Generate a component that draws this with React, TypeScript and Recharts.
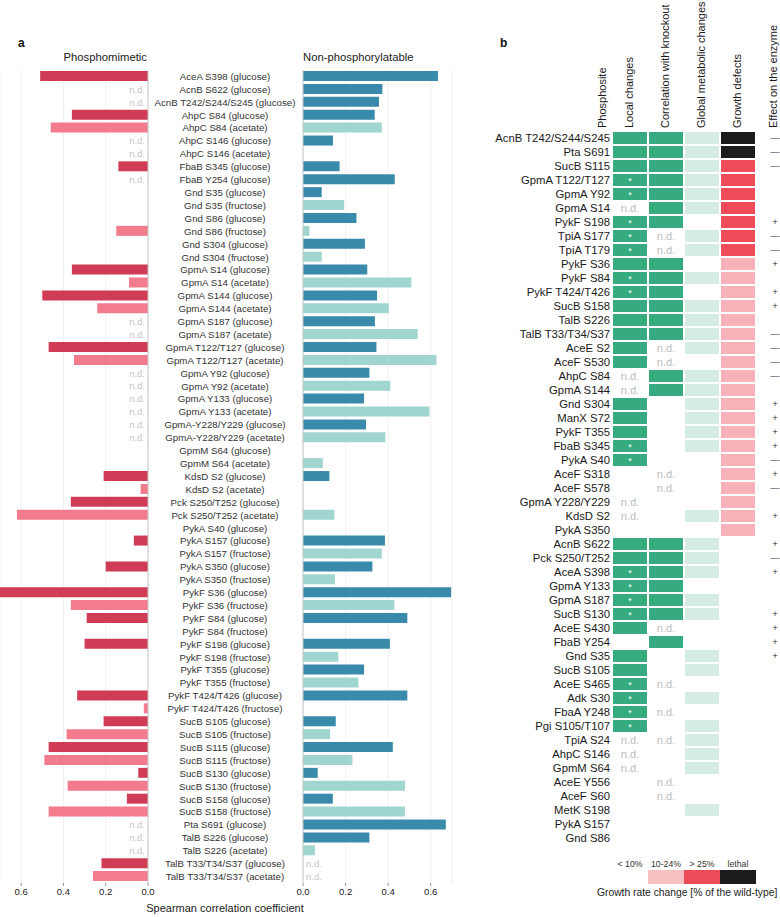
import React from "react";
import { BarChart, Bar, XAxis, YAxis, CartesianGrid, ReferenceLine, Cell } from "recharts";

const FONT = "'Liberation Sans', Arial, Helvetica, sans-serif";
const ND = "n.d.";

// ---- panel a: Spearman correlation per phosphosite / condition ----
const conditions = [
  "AceA S398 (glucose)", "AcnB S622 (glucose)", "AcnB T242/S244/S245 (glucose)",
  "AhpC S84 (glucose)", "AhpC S84 (acetate)", "AhpC S146 (glucose)", "AhpC S146 (acetate)",
  "FbaB S345 (glucose)", "FbaB Y254 (glucose)", "Gnd S35 (glucose)", "Gnd S35 (fructose)",
  "Gnd S86 (glucose)", "Gnd S86 (fructose)", "Gnd S304 (glucose)", "Gnd S304 (fructose)",
  "GpmA S14 (glucose)", "GpmA S14 (acetate)", "GpmA S144 (glucose)", "GpmA S144 (acetate)",
  "GpmA S187 (glucose)", "GpmA S187 (acetate)", "GpmA T122/T127 (glucose)", "GpmA T122/T127 (acetate)",
  "GpmA Y92 (glucose)", "GpmA Y92 (acetate)", "GpmA Y133 (glucose)", "GpmA Y133 (acetate)",
  "GpmA-Y228/Y229 (glucose)", "GpmA-Y228/Y229 (acetate)", "GpmM S64 (glucose)", "GpmM S64 (acetate)",
  "KdsD S2 (glucose)", "KdsD S2 (acetate)", "Pck S250/T252 (glucose)", "Pck S250/T252 (acetate)",
  "PykA S40 (glucose)", "PykA S157 (glucose)", "PykA S157 (fructose)", "PykA S350 (glucose)",
  "PykA S350 (fructose)", "PykF S36 (glucose)", "PykF S36 (fructose)", "PykF S84 (glucose)",
  "PykF S84 (fructose)", "PykF S198 (glucose)", "PykF S198 (fructose)", "PykF T355 (glucose)",
  "PykF T355 (fructose)", "PykF T424/T426 (glucose)", "PykF T424/T426 (fructose)",
  "SucB S105 (glucose)", "SucB S105 (fructose)", "SucB S115 (glucose)", "SucB S115 (fructose)",
  "SucB S130 (glucose)", "SucB S130 (fructose)", "SucB S158 (glucose)", "SucB S158 (fructose)",
  "Pta S691 (glucose)", "TalB S226 (glucose)", "TalB S226 (acetate)",
  "TalB T33/T34/S37 (glucose)", "TalB T33/T34/S37 (acetate)",
];

const phosphomimetic: (number | string | null)[] = [
  0.51, ND, ND, 0.36, 0.46, ND, ND, 0.14, ND, null, null, null, 0.15, null, null,
  0.36, 0.09, 0.5, 0.24, ND, ND, 0.47, 0.35, ND, ND, ND, ND, ND, ND, null, null,
  0.21, 0.035, 0.365, 0.62, null, 0.067, null, 0.2, null, 0.7, 0.365, 0.29, null,
  0.3, null, null, null, 0.335, 0.02, 0.21, 0.385, 0.47, 0.49, 0.046, 0.38, 0.1, 0.47,
  ND, ND, ND, 0.22, 0.26,
];

const nonPhosphorylatable: (number | string | null)[] = [
  0.634, 0.373, 0.357, 0.337, 0.37, 0.141, null, 0.172, 0.431, 0.088, 0.193, 0.251, 0.03,
  0.291, 0.088, 0.302, 0.509, 0.348, 0.403, 0.338, 0.539, 0.345, 0.627, 0.312, 0.41,
  0.287, 0.594, 0.296, 0.387, null, 0.093, 0.124, null, null, 0.147, null, 0.385, 0.37,
  0.326, 0.15, 0.696, 0.429, 0.49, null, 0.408, 0.166, 0.287, 0.26, 0.49, null, 0.154,
  0.127, 0.422, 0.232, 0.069, 0.479, 0.14, 0.479, 0.671, 0.312, 0.056, ND, ND,
];

const corrTicks = [0, 0.2, 0.4, 0.6];

// ---- panel b: summary table ----
const phosphosites = [
  "AcnB T242/S244/S245", "Pta S691", "SucB S115", "GpmA T122/T127", "GpmA Y92", "GpmA S14",
  "PykF S198", "TpiA S177", "TpiA T179", "PykF S36", "PykF S84", "PykF T424/T426", "SucB S158",
  "TalB S226", "TalB T33/T34/S37", "AceE S2", "AceF S530", "AhpC S84", "GpmA S144", "Gnd S304",
  "ManX S72", "PykF T355", "FbaB S345", "PykA S40", "AceF S318", "AceF S578", "GpmA Y228/Y229",
  "KdsD S2", "PykA S350", "AcnB S622", "Pck S250/T252", "AceA S398", "GpmA Y133", "GpmA S187",
  "SucB S130", "AceE S430", "FbaB Y254", "Gnd S35", "SucB S105", "AceE S465", "Adk S30",
  "FbaA Y248", "Pgi S105/T107", "TpiA S24", "AhpC S146", "GpmM S64", "AceE Y556", "AceF S60",
  "MetK S198", "PykA S157", "Gnd S86",
];
// G = significant, S = significant with asterisk, N = n.d.
const localChanges = [
  "G", "G", "G", "S", "S", "N", "S", "S", "S", "G", "S", "S", "G", "G", "G", "G", "G", "N", "N",
  "G", "G", "G", "S", "S", "", "", "N", "N", "", "G", "G", "S", "S", "S", "S", "G", "", "G", "G",
  "S", "S", "S", "S", "N", "N", "N", "", "", "", "", "",
];
const correlationKO = [
  "G", "G", "G", "G", "G", "G", "G", "N", "N", "G", "G", "G", "G", "G", "G", "N", "N", "G", "G",
  "", "", "", "", "", "N", "N", "", "", "", "G", "G", "G", "G", "G", "G", "N", "G", "", "", "N",
  "", "N", "", "N", "", "", "N", "N", "", "", "",
];
const globalChanges = [
  "L", "L", "L", "L", "L", "L", "", "L", "L", "", "L", "", "L", "L", "L", "L", "", "L", "L", "L",
  "L", "L", "L", "", "", "", "", "L", "", "L", "L", "L", "", "L", "L", "", "", "L", "L", "", "L",
  "", "L", "L", "L", "L", "", "", "L", "", "",
];
// K lethal, R > 25%, P 10-24%
const growthDefects = [
  "K", "K", "R", "R", "R", "R", "R", "R", "R", "P", "P", "P", "P", "P", "P", "P", "P", "P", "P",
  "P", "P", "P", "P", "P", "P", "P", "P", "P", "P", "", "", "", "", "", "", "", "", "", "", "",
  "", "", "", "", "", "", "", "", "", "", "",
];
const enzymeEffect = [
  "—", "—", "—", "", "", "", "+", "—", "—", "+", "", "+", "+", "", "—", "—", "—", "—", "", "+",
  "+", "+", "+", "—", "+", "—", "", "+", "", "+", "—", "+", "", "", "+", "+", "+", "+", "", "",
  "", "", "", "", "", "", "", "", "", "", "",
];

const tableHeaders = [
  "Phosphosite", "Local changes", "Correlation with knockout",
  "Global metabolic changes", "Growth defects", "Effect on the enzyme",
];
const legendLabels = ["< 10%", "10-24%", "> 25%", "lethal"];
const legendKeys = ["", "P", "R", "K"];

// ---- colours ----
const DARK_RED = "#d03c55";
const LIGHT_RED = "#f27b8e";
const DARK_TEAL = "#3a8bab";
const LIGHT_TEAL = "#a1d5cf";
const GREEN = "#36ab7f";
const PALE_GREEN = "#d5ece3";
const growthColors: Record<string, string> = { K: "#1d1b1c", R: "#ee4c59", P: "#f8b2ba" };
const legendColors: Record<string, string> = { K: "#1d1b1c", R: "#ec4b58", P: "#f7c0c3" };

const rowsA = conditions.map((c, i) => ({
  condition: c,
  phospho: typeof phosphomimetic[i] === "number" ? phosphomimetic[i] : null,
  phosphoND: phosphomimetic[i] === ND,
  nonPhospho: typeof nonPhosphorylatable[i] === "number" ? nonPhosphorylatable[i] : null,
  nonPhosphoND: nonPhosphorylatable[i] === ND,
  glucose: c.includes("(glucose)"),
}));

const rowsB = phosphosites.map((s, i) => ({
  site: s,
  local: 1,
  corr: 1,
  global: 1,
  growth: 1,
  localState: localChanges[i],
  corrState: correlationKO[i],
  globalState: globalChanges[i],
  growthState: growthDefects[i],
  effect: enzymeEffect[i],
}));

const findA = (v: string) => rowsA.find((r) => r.condition === v);

// the middle chart starts at x=120, so its tick draws the label and both n.d. marks
const MID_LEFT = 120;

const CenterTick = (props: any) => {
  const row = findA(props.payload?.value);
  return (
    <g fontFamily={FONT}>
      <text x={225 - MID_LEFT} y={props.y} dy="0.35em" textAnchor="middle" fontSize={9.7} fill="#333">
        {props.payload?.value}
      </text>
      {row && row.phosphoND ? (
        <text x={145 - MID_LEFT} y={props.y} dy="0.35em" textAnchor="end" fontSize={9.5} fill="#c6c6c6">
          n.d.
        </text>
      ) : null}
      {row && row.nonPhosphoND ? (
        <text x={306 - MID_LEFT} y={props.y} dy="0.35em" textAnchor="start" fontSize={9.5} fill="#c6c6c6">
          n.d.
        </text>
      ) : null}
    </g>
  );
};

const SiteTick = (props: any) => (
  <text x={130} y={props.y} dy="0.36em" textAnchor="end" fontSize={11.3} fill="#1a1a1a" fontFamily={FONT}>
    {props.payload?.value}
  </text>
);

const greenShape = (key: "localState" | "corrState") => (props: any) => {
  const { x, y, width, height, payload } = props;
  const st = payload[key];
  const cx = x + width / 2;
  const cy = y + height / 2;
  if (st === "N")
    return (
      <text x={cx} y={cy} dy="0.36em" textAnchor="middle" fontSize={11} fill="#bdbdbd" fontFamily={FONT}>
        n.d.
      </text>
    );
  if (st !== "G" && st !== "S") return <g />;
  return (
    <g>
      <rect x={x + 1} y={y} width={width - 2} height={height} fill={GREEN} />
      {st === "S" ? (
        <text x={cx} y={cy + 3.5} textAnchor="middle" fontSize={9} fill="#fff" fontFamily={FONT}>
          *
        </text>
      ) : null}
    </g>
  );
};

const globalShape = (props: any) => {
  const { x, y, width, height, payload } = props;
  if (payload.globalState !== "L") return <g />;
  return <rect x={x + 1} y={y} width={width - 2} height={height} fill={PALE_GREEN} />;
};

const growthShape = (props: any) => {
  const { x, y, width, height, payload } = props;
  const fill = growthColors[payload.growthState];
  return (
    <g>
      {fill ? <rect x={x + 1} y={y} width={width - 2} height={height} fill={fill} /> : null}
      {payload.effect ? (
        <text x={x + width + 19} y={y + height / 2} dy="0.36em" textAnchor="middle" fontSize={9.5} fill="#333" fontFamily={FONT}>
          {payload.effect}
        </text>
      ) : null}
    </g>
  );
};

const colCenters = [630, 666, 702, 738];
const headerX = [603, 630, 666, 702, 738, 774];

export default function App() {
  return (
    <div style={{ position: "absolute", left: 0, top: 0, width: 780, height: 917, background: "#fff", fontFamily: FONT }}>
      {/* phosphomimetic */}
      <div style={{ position: "absolute", left: 0, top: 0 }}>
        <BarChart layout="vertical" width={162} height={917} data={rowsA} margin={{ top: 70, right: 14, bottom: 14, left: 0 }} barSize={10}>
          <CartesianGrid horizontal={false} stroke="#f0f0f0" />
          <XAxis
            type="number"
            domain={[0, 0.7]}
            reversed
            ticks={corrTicks}
            interval={0}
            tickFormatter={(v: number) => v.toFixed(1)}
            axisLine={false}
            tickLine={{ stroke: "#999" }}
            tickSize={3}
            height={20}
            tick={{ fontSize: 9.5, fill: "#222", fontFamily: FONT }}
          />
          <YAxis type="category" dataKey="condition" hide />
          <ReferenceLine x={0} stroke="#c8c8c8" />
          <Bar dataKey="phospho" isAnimationActive={false}>
            {rowsA.map((r, i) => (
              <Cell key={i} fill={r.glucose ? DARK_RED : LIGHT_RED} />
            ))}
          </Bar>
        </BarChart>
      </div>

      {/* labels + non-phosphorylatable */}
      <div style={{ position: "absolute", left: MID_LEFT, top: 0 }}>
        <BarChart layout="vertical" width={334} height={917} data={rowsA} margin={{ top: 70, right: 2, bottom: 14, left: 0 }} barSize={10}>
          <CartesianGrid horizontal={false} stroke="#f0f0f0" />
          <XAxis
            type="number"
            domain={[0, 0.7]}
            ticks={corrTicks}
            interval={0}
            tickFormatter={(v: number) => v.toFixed(1)}
            axisLine={false}
            tickLine={{ stroke: "#999" }}
            tickSize={3}
            height={20}
            tick={{ fontSize: 9.5, fill: "#222", fontFamily: FONT }}
          />
          <YAxis type="category" dataKey="condition" width={183} axisLine={false} tickLine={false} interval={0} tick={<CenterTick />} />
          <ReferenceLine x={0} stroke="#c8c8c8" />
          <Bar dataKey="nonPhospho" isAnimationActive={false}>
            {rowsA.map((r, i) => (
              <Cell key={i} fill={r.glucose ? DARK_TEAL : LIGHT_TEAL} />
            ))}
          </Bar>
        </BarChart>
      </div>

      {/* panel b table */}
      <div style={{ position: "absolute", left: 480, top: 0 }}>
        <BarChart layout="vertical" width={300} height={917} data={rowsB} margin={{ top: 131, right: 24, bottom: 72, left: 0 }} barSize={12} barCategoryGap={0}>
          <XAxis type="number" domain={[0, 4]} hide />
          <YAxis type="category" dataKey="site" width={132} axisLine={false} tickLine={false} interval={0} tick={<SiteTick />} />
          <Bar dataKey="local" stackId="t" isAnimationActive={false} shape={greenShape("localState")} />
          <Bar dataKey="corr" stackId="t" isAnimationActive={false} shape={greenShape("corrState")} />
          <Bar dataKey="global" stackId="t" isAnimationActive={false} shape={globalShape} />
          <Bar dataKey="growth" stackId="t" isAnimationActive={false} shape={growthShape} />
        </BarChart>
      </div>

      {/* titles, headers, legend */}
      <svg width={780} height={917} style={{ position: "absolute", left: 0, top: 0, pointerEvents: "none" }} fontFamily={FONT}>
        <text x={18} y={47} fontSize={12} fontWeight="bold" fill="#111">a</text>
        <text x={500} y={47} fontSize={12} fontWeight="bold" fill="#111">b</text>
        <text x={147} y={61} textAnchor="end" fontSize={11.3} fill="#222">Phosphomimetic</text>
        <text x={303} y={61} textAnchor="start" fontSize={11.3} fill="#222">Non-phosphorylatable</text>
        <text x={225} y={912} textAnchor="middle" fontSize={11} fill="#222">Spearman correlation coefficient</text>
        {tableHeaders.map((h, i) => (
          <text
            key={h}
            x={headerX[i]}
            y={128}
            transform={`rotate(-90 ${headerX[i]} 128)`}
            textAnchor="start"
            dominantBaseline="middle"
            fontSize={11}
            fill="#1a1a1a"
          >
            {h}
          </text>
        ))}
        {legendLabels.map((l, i) => (
          <g key={l}>
            <text x={colCenters[i]} y={867} textAnchor="middle" fontSize={8.7} fill="#333">{l}</text>
            {legendColors[legendKeys[i]] ? (
              <rect x={colCenters[i] - 18} y={870} width={36} height={14} fill={legendColors[legendKeys[i]]} />
            ) : null}
          </g>
        ))}
        <text x={597} y={896} textAnchor="start" fontSize={10.3} fill="#222">Growth rate change [% of the wild-type]</text>
      </svg>
    </div>
  );
}
